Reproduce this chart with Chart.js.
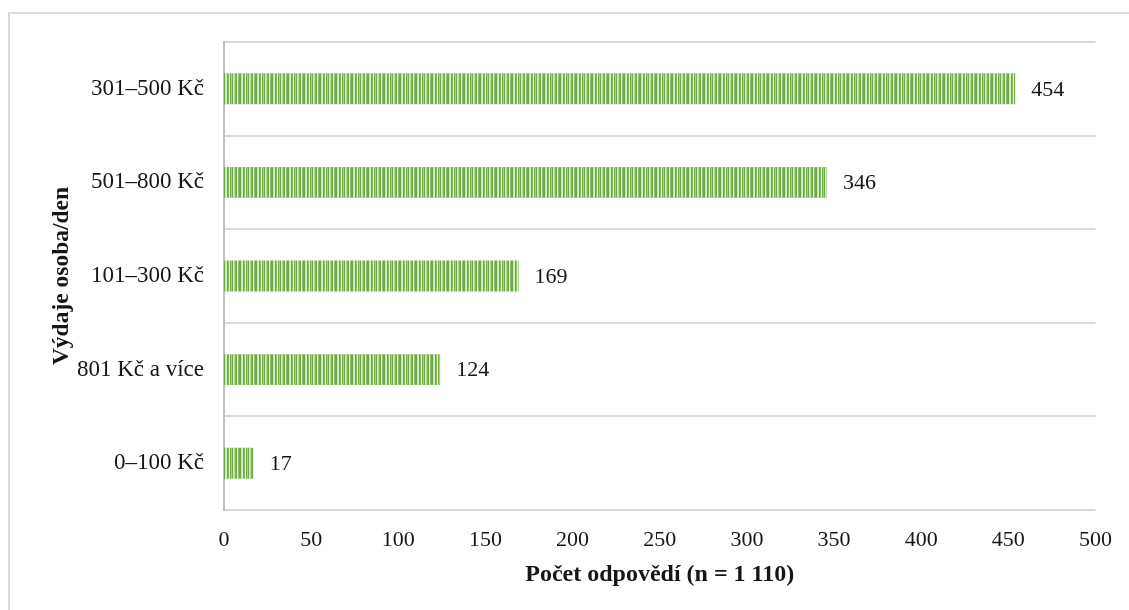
<!DOCTYPE html>
<html lang="cs">
<head>
<meta charset="utf-8">
<title>Výdaje osoba/den</title>
<script src="https://cdn.jsdelivr.net/npm/chart.js@4.4.1/dist/chart.umd.min.js"></script>
<style>
  html, body { margin: 0; padding: 0; background: #ffffff; }
  #wrap { width: 1129px; height: 610px; }
</style>
</head>
<body>
<div id="wrap"><canvas id="chart" width="1129" height="610"></canvas></div>
<script>
// Spending per person per day, ordered from most to least frequent
const categories = ['301–500 Kč', '501–800 Kč', '101–300 Kč', '801 Kč a více', '0–100 Kč'];
const responses = [454, 346, 169, 124, 17];
const xTicks = [0, 50, 100, 150, 200, 250, 300, 350, 400, 450, 500];

const serif = '"Liberation Serif", "Times New Roman", serif';
const textColor = '#161616';

// Vertical stripe fill for the bars
function stripePattern() {
  const cols = ['#6fac45', '#c6e3b3', '#dcefd0', '#6fac45', '#86bf62', '#e1f0d6', '#74b04b', '#a8d28c',
                '#6fac45', '#d2e9c3', '#b9dca2', '#7cb555', '#6fac45', '#e6f3dd', '#92c873', '#6fac45'];
  const c = document.createElement('canvas');
  c.width = cols.length; c.height = 4;
  const g = c.getContext('2d');
  cols.forEach((col, i) => { g.fillStyle = col; g.fillRect(i, 0, 1, 4); });
  return g.createPattern(c, 'repeat');
}

// White page with the light grey frame around the chart
const frame = {
  id: 'frame',
  beforeDraw(chart) {
    const ctx = chart.ctx;
    ctx.save();
    ctx.fillStyle = '#ffffff';
    ctx.fillRect(0, 0, chart.width, chart.height);
    ctx.strokeStyle = '#d9d9d9';
    ctx.lineWidth = 2;
    ctx.strokeRect(9, 13, chart.width + 20, chart.height + 20);
    ctx.restore();
  }
};

// Value written to the right of each bar
const valueLabels = {
  id: 'valueLabels',
  afterDatasetsDraw(chart) {
    const ctx = chart.ctx;
    const meta = chart.getDatasetMeta(0);
    ctx.save();
    ctx.font = '22px ' + serif;
    ctx.fillStyle = textColor;
    ctx.textAlign = 'left';
    ctx.textBaseline = 'middle';
    meta.data.forEach((bar, i) => {
      ctx.fillText(String(chart.data.datasets[0].data[i]), bar.x + 16, bar.y + 1);
    });
    ctx.restore();
  }
};

new Chart(document.getElementById('chart'), {
  type: 'bar',
  data: {
    labels: categories,
    datasets: [{
      data: responses,
      backgroundColor: stripePattern(),
      borderWidth: 0,
      barPercentage: 0.33,
      categoryPercentage: 1
    }]
  },
  options: {
    indexAxis: 'y',
    responsive: false,
    animation: false,
    devicePixelRatio: 1,
    layout: { padding: { top: 42, right: 32, bottom: 0, left: 0 } },
    plugins: { legend: { display: false }, tooltip: { enabled: false } },
    scales: {
      x: {
        min: 0,
        max: 500,
        afterBuildTicks(scale) { scale.ticks = xTicks.map(v => ({ value: v })); },
        afterFit(scale) { scale.height = 100; },
        grid: { display: false, drawTicks: false },
        border: { display: false },
        ticks: {
          padding: 17,
          color: textColor,
          font: { family: serif, size: 22 }
        },
        title: {
          display: true,
          text: 'Počet odpovědí (n = 1 110)',
          color: textColor,
          font: { family: serif, size: 24, weight: 'bold' },
          padding: { top: 0, bottom: 21 }
        }
      },
      y: {
        afterFit(scale) { scale.width = 224; },
        grid: { color: '#d9d9d9', lineWidth: 2, drawTicks: false, offset: true },
        border: { display: true, color: '#bfbfbf', width: 2 },
        ticks: {
          padding: 20,
          color: textColor,
          font: { family: serif, size: 23 }
        },
        title: {
          display: true,
          text: 'Výdaje osoba/den',
          color: textColor,
          font: { family: serif, size: 23.5, weight: 'bold' },
          padding: { top: 48, bottom: 0 }
        }
      }
    }
  },
  plugins: [frame, valueLabels]
});
</script>
</body>
</html>
